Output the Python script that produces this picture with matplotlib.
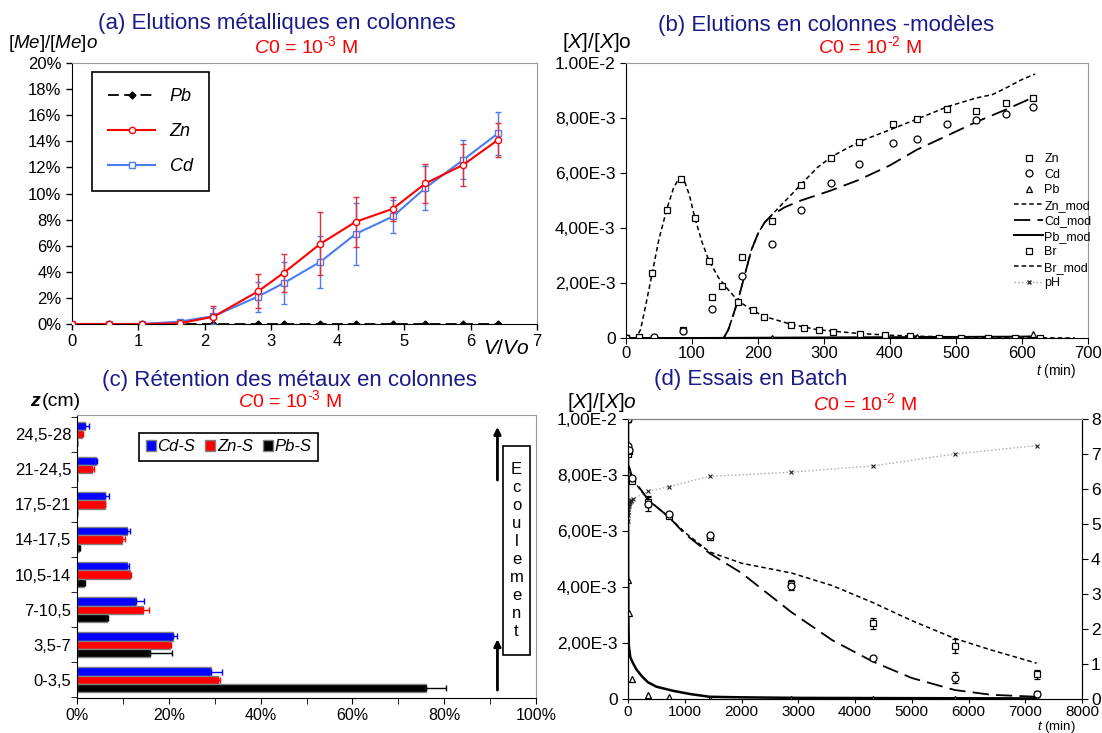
import numpy as np
import matplotlib
matplotlib.use('Agg')
import matplotlib.pyplot as plt
from matplotlib.lines import Line2D
from matplotlib.patches import Patch, Rectangle
from matplotlib import font_manager as fm

plt.rcParams['font.family'] = ['Liberation Sans', 'DejaVu Sans']
plt.rcParams['mathtext.fontset'] = 'custom'
plt.rcParams['mathtext.rm'] = 'Liberation Sans'
plt.rcParams['mathtext.it'] = 'Liberation Sans:italic'
plt.rcParams['mathtext.bf'] = 'Liberation Sans:bold'
names = {f.name for f in fm.fontManager.ttflist}
NARROW = 'Liberation Sans Narrow' if 'Liberation Sans Narrow' in names else 'Liberation Sans'

# ---------------- data ----------------
# (a) column elutions, C0 = 1e-3 M  (values in %)
a_x = [0, 0.55, 1.05, 1.62, 2.13, 2.8, 3.19, 3.74, 4.27, 4.83, 5.32, 5.89, 6.41]
a_pb = [0, 0, 0, 0, 0, 0, 0, 0, 0, 0, 0, 0, 0]
a_zn = [0, 0, 0, 0.05, 0.56, 2.5, 3.93, 6.15, 7.83, 8.83, 10.77, 12.2, 14.1]
a_zn_err = [0, 0, 0, 0.1, 0.8, 1.3, 1.45, 2.4, 1.9, 0.9, 1.5, 1.6, 1.3]
a_cd = [0, 0, 0, 0.18, 0.6, 2.1, 3.14, 4.77, 6.9, 8.24, 10.43, 12.58, 14.6]
a_cd_err = [0, 0, 0, 0.1, 0.6, 1.15, 1.6, 2.0, 2.4, 1.25, 1.7, 1.5, 1.65]

# (b) column elutions with models, C0 = 1e-2 M (values in units of 1e-3)
b_t_br = [0, 20, 40, 62, 83, 104, 125, 146, 170, 192, 209, 250, 269, 292, 313, 355, 392, 430, 474, 508, 548, 589, 627]
b_br = [0, 0.05, 2.36, 4.67, 5.78, 4.38, 2.81, 1.9, 1.31, 1.0, 0.76, 0.48, 0.36, 0.28, 0.22, 0.145, 0.1, 0.06, 0.01, 0.01, 0, 0, 0]
b_t = [0, 43, 87, 131, 176, 221, 265, 310, 353, 405, 441, 486, 530, 575, 617]
b_zn = [0, 0, 0.3, 1.49, 2.95, 4.27, 5.58, 6.53, 7.14, 7.77, 7.95, 8.32, 8.24, 8.53, 8.72]
b_cd = [0, 0.04, 0.24, 1.07, 2.24, 3.43, 4.67, 5.64, 6.32, 7.1, 7.25, 7.79, 7.92, 8.16, 8.39]
b_t_pb = [221, 441, 617]
b_pb = [0, 0.03, 0.15]
b_t_brmod = [0, 15, 22, 30, 40, 50, 62, 72, 80, 88, 96, 104, 115, 125, 140, 155, 170, 192, 210, 250, 290, 350, 400, 450, 500, 600, 680]
b_brmod = [0, 0, 0.3, 1.2, 2.4, 3.6, 4.7, 5.45, 5.8, 5.75, 5.2, 4.4, 3.5, 2.85, 2.2, 1.75, 1.35, 1.0, 0.78, 0.5, 0.3, 0.17, 0.1, 0.06, 0.04, 0.01, 0]
b_t_znmod = [148, 155, 162, 170, 180, 190, 200, 210, 220, 232, 250, 265, 290, 312, 335, 360, 403, 445, 488, 531, 555, 574, 600, 620]
b_znmod = [0, 0.3, 0.8, 1.4, 2.3, 3.2, 3.8, 4.2, 4.45, 4.76, 5.2, 5.58, 6.2, 6.6, 6.9, 7.2, 7.6, 8.0, 8.42, 8.73, 8.85, 9.07, 9.4, 9.6]
b_t_cdmod = [148, 155, 162, 170, 180, 190, 200, 210, 220, 240, 265, 310, 353, 400, 441, 486, 530, 575, 617]
b_cdmod = [0, 0.3, 0.8, 1.4, 2.3, 3.2, 3.8, 4.2, 4.45, 4.75, 5.0, 5.36, 5.75, 6.28, 6.85, 7.35, 7.85, 8.3, 8.75]
b_t_pbmod = [0, 100, 200, 300, 400, 500, 600, 620]
b_pbmod = [0, 0, 0.01, 0.02, 0.03, 0.04, 0.05, 0.06]
b_yticklabels = ['0', '2,00E-3', '4,00E-3', '6,00E-3', '8,00E-3', '1.00E-2']

# (c) metal retention in column (%)
c_cats = ['0-3,5', '3,5-7', '7-10,5', '10,5-14', '14-17,5', '17,5-21', '21-24,5', '24,5-28']
c_cd = [29.2, 20.9, 12.85, 10.9, 11.0, 6.1, 4.05, 1.7]
c_cd_err = [2.3, 0.9, 1.8, 0.4, 0.5, 0.8, 0.3, 1.0]
c_zn = [30.8, 20.35, 14.3, 11.55, 9.7, 6.0, 3.2, 1.1]
c_zn_err = [0.3, 0.2, 1.4, 0.3, 0.8, 0.1, 0.4, 0.2]
c_pb = [76.0, 15.9, 6.5, 1.5, 0.5, 0, 0, 0]
c_pb_err = [4.5, 4.7, 0.2, 0.2, 0.1, 0, 0, 0]

# (d) batch tests, C0 = 1e-2 M
d_t = [0, 5, 15, 75, 360, 720, 1440, 2880, 4320, 5760, 7200]
d_zn = [10, 8.75, 8.85, 7.77, 7.05, 6.55, 5.8, 4.1, 2.7, 1.9, 0.88]
d_zn_err = [0, 0, 0, 0, 0.2, 0.05, 0.1, 0.15, 0.2, 0.25, 0.15]
d_cd = [10, 9.05, 8.9, 7.9, 6.97, 6.6, 5.85, 4.05, 1.47, 0.76, 0.18]
d_cd_err = [0, 0, 0, 0, 0.25, 0.05, 0.05, 0.15, 0.05, 0.2, 0.1]
d_pb = [10, 4.25, 3.06, 0.72, 0.15, 0.08, 0, 0, 0, 0, 0]
d_t_ph = [0, 2, 4, 6, 8, 10, 15, 20, 30, 45, 60, 90, 360, 720, 1440, 2880, 4320, 5760, 7200]
d_ph = [5.1, 5.25, 5.35, 5.42, 5.48, 5.52, 5.56, 5.6, 5.63, 5.66, 5.68, 5.72, 5.93, 6.07, 6.36, 6.48, 6.66, 7.0, 7.24]
d_t_mod = [0, 5, 75, 360, 720, 1000, 1440, 2000, 2880, 3600, 4320, 5000, 5760, 6400, 7200]
d_znmod = [10, 8.3, 7.85, 7.1, 6.5, 5.95, 5.25, 4.85, 4.5, 4.05, 3.44, 2.8, 2.16, 1.75, 1.28]
d_cdmod = [10, 8.4, 7.9, 7.1, 6.5, 5.9, 5.2, 4.5, 3.1, 2.1, 1.33, 0.75, 0.32, 0.15, 0.08]
d_t_pbmod = [0, 3, 8, 15, 40, 75, 150, 250, 350, 500, 800, 1115, 1440, 2000, 3000, 5000, 7200]
d_pbmod = [10, 4.5, 2.6, 1.9, 1.5, 1.33, 1.05, 0.8, 0.6, 0.44, 0.29, 0.17, 0.08, 0.06, 0.04, 0.03, 0.02]
d_yticklabels = ['0', '2,00E-3', '4,00E-3', '6,00E-3', '8,00E-3', '1,00E-2']

# ---------------- figure ----------------
W, H = 1102, 733
fig = plt.figure(figsize=(W / 100, H / 100), dpi=100)
NAVY = '#1a1a88'
RED = '#ff0000'
CDB = '#4a7ef0'
GRAY = '#9a9a9a'
HYPH = '\u2010'

def px(x, y):
    return x / W, 1 - y / H

def axes_px(l, t, r, b):
    return fig.add_axes([l / W, 1 - b / H, (r - l) / W, (b - t) / H])

def frame(ax, top_col=GRAY, right_col=GRAY):
    ax.spines['top'].set_color(top_col)
    ax.spines['right'].set_color(right_col)
    ax.spines['left'].set_color('black')
    ax.spines['bottom'].set_color('black')

def header(xc, y, title, xc2, y2, exp):
    fig.text(*px(xc, y), title, color=NAVY, fontsize=16, ha='center', va='center')
    fig.text(*px(xc2, y2), r'$\mathit{C0}$ = 10$^{' + HYPH + exp + '}$ M', color=RED,
             fontsize=14, ha='center', va='center')

# ---- (a) ----
ax = axes_px(72, 63, 537, 324)
frame(ax)
ax.plot(a_x, a_pb, color='black', lw=1.3, dashes=(6, 3), marker='D', ms=3.5,
        mfc='black', mec='black', label='Pb', zorder=3)
ax.errorbar(a_x, a_zn, yerr=a_zn_err, color=RED, lw=1.5, marker='o', ms=4.5,
            mfc='white', mec=RED, ecolor='#e0303a', elinewidth=1, capsize=2,
            label='Zn', zorder=4)
ax.errorbar(a_x, a_cd, yerr=a_cd_err, color=CDB, lw=1.5, marker='s', ms=5,
            mfc='white', mec=CDB, ecolor=CDB, elinewidth=1, capsize=2,
            label='Cd', zorder=3)
ax.set_xlim(0, 7)
ax.set_ylim(0, 20)
ax.set_yticks(range(0, 21, 2))
ax.set_yticklabels([f'{v}%' for v in range(0, 21, 2)])
ax.set_xticks(range(0, 8))
ax.tick_params(labelsize=12, direction='out', length=4, width=1)
h_pb = Line2D([], [], color='black', lw=1.3, dashes=(6, 3), marker='D', ms=3.5)
h_zn = Line2D([], [], color=RED, lw=1.5, marker='o', ms=4.5, mfc='white', mec=RED)
h_cd = Line2D([], [], color=CDB, lw=1.5, marker='s', ms=5, mfc='white', mec=CDB)
leg = ax.legend([h_pb, h_zn, h_cd], ['Pb', 'Zn', 'Cd'], loc='upper left',
                bbox_to_anchor=(0.043, 0.966), fancybox=False, edgecolor='black',
                prop={'style': 'italic', 'size': 13}, labelspacing=1.0,
                handlelength=2.6, borderpad=0.9, borderaxespad=0, framealpha=1)
leg.get_frame().set_linewidth(1.2)
header(277, 23, '(a) Elutions métalliques en colonnes', 306, 46, '3')
fig.text(*px(8, 43), r'[$\mathit{Me}$]/[$\mathit{Me}$]$\mathit{o}$', fontsize=13.5,
         ha='left', va='center')
fig.text(*px(506, 349), r'$\mathit{V/Vo}$', fontsize=15, ha='center', va='center')

# ---- (b) ----
ax = axes_px(626, 63, 1088, 338)
frame(ax)
ax.plot(b_t_brmod, b_brmod, color='black', lw=1.1, dashes=(3, 2))
ax.plot(b_t_znmod, b_znmod, color='black', lw=1.1, dashes=(3, 2))
ax.plot(b_t_cdmod, b_cdmod, color='black', lw=1.3, dashes=(9, 4))
ax.plot(b_t_pbmod, b_pbmod, color='black', lw=1.4)
mk = dict(ls='none', mfc='white', mec='black', mew=0.9, ms=5)
ax.plot(b_t_br, b_br, marker='s', **mk)
ax.plot(b_t, b_zn, marker='s', **mk)
ax.plot(b_t, b_cd, marker='o', **mk)
ax.plot(b_t_pb, b_pb, marker='^', **mk)
ax.set_xlim(0, 700)
ax.set_ylim(0, 10)
ax.set_xticks(range(0, 701, 100))
ax.set_yticks(range(0, 11, 2))
ax.set_yticklabels(b_yticklabels)
ax.tick_params(axis='y', labelsize=12.5, direction='out', length=4)
ax.tick_params(axis='x', labelsize=12, direction='out', length=4, pad=2)
for lab in ax.get_xticklabels():
    lab.set_family(NARROW)
handles = [
    Line2D([], [], marker='s', **mk),
    Line2D([], [], marker='o', **mk),
    Line2D([], [], marker='^', **mk),
    Line2D([], [], color='black', lw=1.1, dashes=(3, 2)),
    Line2D([], [], color='black', lw=1.3, dashes=(9, 4)),
    Line2D([], [], color='black', lw=1.4),
    Line2D([], [], marker='s', **mk),
    Line2D([], [], color='black', lw=1.1, dashes=(3, 2)),
    Line2D([], [], color='#a0a0a0', lw=1, ls=':', marker='x', ms=3, mec='#333333'),
]
labels = ['Zn', 'Cd', 'Pb', 'Zn_mod', 'Cd_mod', 'Pb_mod', 'Br', 'Br_mod', 'pH']
ax.legend(handles, labels, loc='upper left', bbox_to_anchor=(0.83, 0.69),
          frameon=False, prop={'family': NARROW, 'size': 9}, handlelength=2.3,
          handletextpad=0.1, labelspacing=0.28, borderaxespad=0)
header(826, 25, '(b) Elutions en colonnes -modèles', 870, 46, '2')
fig.text(*px(597, 42), r'[$\mathit{X}$]/[$\mathit{X}$]o', fontsize=15, ha='center', va='center')
fig.text(*px(1056, 371), r'$\mathit{t}$ (min)', fontsize=10, ha='center', va='center',
         family=NARROW)

# ---- (c) ----
ax = axes_px(77, 415, 536, 698)
frame(ax)
y = np.arange(len(c_cats))
bh = 0.235
ekw = dict(elinewidth=1, capsize=2, capthick=1)
ax.barh(y + bh, c_cd, height=bh, color='#0000ff', edgecolor='#808080', lw=1.0,
        xerr=[np.zeros(len(c_cd)), c_cd_err], error_kw=dict(ecolor='#0000ff', **ekw))
ax.barh(y, c_zn, height=bh, color='#ff0000', edgecolor='#808080', lw=1.0,
        xerr=[np.zeros(len(c_zn)), c_zn_err], error_kw=dict(ecolor='#ff0000', **ekw))
ax.barh(y - bh, c_pb, height=bh, color='#000000', edgecolor='#808080', lw=1.0,
        xerr=[np.zeros(len(c_pb)), c_pb_err], error_kw=dict(ecolor='#000000', **ekw))
ax.set_ylim(-0.52, 7.55)
ax.set_xlim(0, 100)
ax.set_yticks(y)
ax.set_yticklabels(c_cats)
ax.set_yticks(np.arange(-0.5, 7.6, 1), minor=True)
ax.tick_params(axis='y', which='major', length=0, labelsize=12, pad=4)
ax.tick_params(axis='y', which='minor', length=4, direction='out')
ax.set_xticks(range(0, 101, 20))
ax.set_xticklabels([f'{v}%' for v in range(0, 101, 20)])
ax.set_xticks(range(0, 101, 10), minor=True)
ax.tick_params(axis='x', which='both', labelsize=11.5, direction='out', length=4)
lh = [Patch(facecolor='#0000ff', edgecolor='#808080'),
      Patch(facecolor='#ff0000', edgecolor='#808080'),
      Patch(facecolor='#000000', edgecolor='#808080')]
leg = ax.legend(lh, ['Cd-S', 'Zn-S', 'Pb-S'], ncol=3, loc='upper left',
                bbox_to_anchor=(0.135, 0.937), fancybox=False, edgecolor='black',
                prop={'style': 'italic', 'size': 12}, handlelength=0.6, handleheight=0.6,
                handletextpad=0.1, columnspacing=0.6, borderpad=0.4, borderaxespad=0,
                framealpha=1)
leg.get_frame().set_linewidth(1.2)
ax.add_patch(Rectangle((0.928, 0.152), 0.059, 0.738, transform=ax.transAxes,
                       fill=False, edgecolor='black', lw=1.2, clip_on=False))
ax.text(0.9575, 0.52, '\n'.join('Ecoulement'), transform=ax.transAxes, ha='center',
        va='center', fontsize=12, linespacing=1.25)
for y0, y1 in [(0.77, 0.958), (0.028, 0.208)]:
    ax.annotate('', xy=(0.916, y1), xytext=(0.916, y0), xycoords='axes fraction',
                arrowprops=dict(arrowstyle='-|>', color='black', lw=2, mutation_scale=10,
                                shrinkA=0, shrinkB=0))
header(289, 380, '(c) Rétention des métaux en colonnes', 290, 400, '3')
fig.text(*px(30, 402), 'z', fontsize=14, fontweight='bold', style='italic', ha='left', va='center')
fig.text(*px(42, 402), '(cm)', fontsize=14, ha='left', va='center')

# ---- (d) ----
ax = axes_px(628, 419, 1082, 699)
frame(ax, top_col='#808080', right_col='black')
ax.plot(d_t_mod, d_znmod, color='black', lw=1.1, dashes=(3, 2), zorder=2)
ax.plot(d_t_mod, d_cdmod, color='black', lw=1.3, dashes=(9, 4), zorder=2)
ax.plot(d_t_pbmod, d_pbmod, color='black', lw=1.8, zorder=2)
ax.errorbar(d_t, d_zn, yerr=d_zn_err, marker='s', capsize=2, ecolor='black', elinewidth=0.9, **mk)
ax.errorbar(d_t, d_cd, yerr=d_cd_err, marker='o', capsize=2, ecolor='black', elinewidth=0.9, **mk)
ax.plot(d_t, d_pb, marker='^', **mk)
ax.set_xlim(0, 8000)
ax.set_ylim(0, 10)
ax.set_xticks(range(0, 8001, 1000))
ax.set_yticks(range(0, 11, 2))
ax.set_yticklabels(d_yticklabels)
ax.tick_params(axis='y', labelsize=12.5, direction='out', length=4)
ax.tick_params(axis='x', labelsize=11, direction='out', length=3, pad=1.5)
for lab in ax.get_xticklabels():
    lab.set_family(NARROW)
ax2 = ax.twinx()
ax2.plot(d_t_ph, d_ph, color='#a8a8a8', lw=1, ls=':', marker='x', ms=3, mec='#222222', mew=0.8)
ax2.set_ylim(0, 8)
ax2.set_yticks(range(0, 9))
ax2.tick_params(axis='y', labelsize=12.5, direction='out', length=4, pad=2.5)
ax2.spines['top'].set_color('#808080')
header(751, 379, '(d) Essais en Batch', 865, 403, '2')
fig.text(*px(602, 403), r'[$\mathit{X}$]/[$\mathit{X}$]$\mathit{o}$', fontsize=15,
         ha='center', va='center')
fig.text(*px(1056, 727), r'$\mathit{t}$ (min)', fontsize=9.5, ha='center', va='center',
         family=NARROW)

fig.savefig('out.png', dpi=100)
